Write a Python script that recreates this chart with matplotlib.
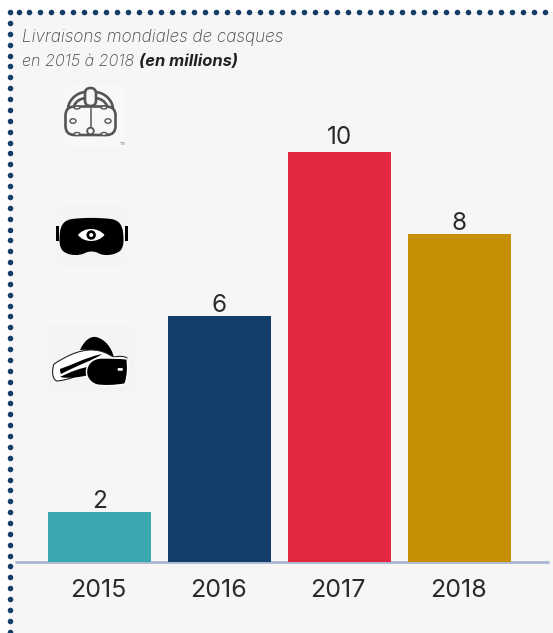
import numpy as np
import matplotlib
matplotlib.use("Agg")
import matplotlib.pyplot as plt
from matplotlib.patches import PathPatch, Rectangle, Ellipse, FancyBboxPatch, Circle
from matplotlib.path import Path

years = ["2015", "2016", "2017", "2018"]
shipments = [2, 6, 10, 8]
bar_colors = ["#3ba7b1", "#133d6b", "#e52842", "#c68f06"]
title_line1 = "Livraisons mondiales de casques"
title_line2 = "en 2015 à 2018"
title_unit = "(en millions)"

W, H = 553, 633
PAGE = "#f7f5f6"
INK = "#2b2b2b"
NAVY = "#133d6b"
FONT = "Inter"

fig = plt.figure(figsize=(W / 100, H / 100), dpi=100, facecolor="white")

# Pixel-space layer for the page, the dotted border and the pictograms
bg = fig.add_axes([0, 0, 1, 1], zorder=0)
bg.set_xlim(0, W)
bg.set_ylim(H, 0)
bg.axis("off")
bg.add_patch(Rectangle((10, 12), W - 10, H - 12, fc=PAGE, ec="none"))

top_x = np.r_[9.8, np.arange(18.5, W - 2, 10.97)]
bg.scatter(top_x, np.full(top_x.size, 12.3), s=16, color=NAVY, lw=0, zorder=3)
left_y = np.arange(23.0, H + 4, 10.87)
bg.scatter(np.full(left_y.size, 10), left_y, s=16, color=NAVY, lw=0, zorder=3)

bg.plot([15, 549], [561.5, 561.5], color="#a9b8d0", lw=2.0, solid_capstyle="butt", zorder=1)


def curve(start, *segments):
    """Closed Bezier outline from a start point and (ctrl, ctrl, end) triples."""
    verts = [start]
    codes = [Path.MOVETO]
    for seg in segments:
        verts.extend(seg)
        codes.extend([Path.CURVE4] * 3)
    verts.append(start)
    codes.append(Path.CLOSEPOLY)
    return Path(verts, codes)


def open_curve(*points):
    return Path(points, [Path.MOVETO] + [Path.CURVE4] * (len(points) - 1))


# Tracked headset: outlined body, top strap and sensor dimples
GREY = "#555555"
ICON_BG = "#f9f8f9"
bg.add_patch(Rectangle((65, 85), 60, 62, fc=ICON_BG, ec="none", zorder=1))
line = dict(fc="none", ec=GREY, lw=1.9, zorder=2)
for pts in ([(68, 108), (69, 100), (76, 93), (85, 92)], [(113, 108), (112, 100), (105, 93), (96, 92)],
            [(74, 106), (76, 101), (80, 99), (85, 98)], [(107, 106), (105, 101), (101, 99), (96, 98)]):
    bg.add_patch(PathPatch(open_curve(*pts), **line))
bg.add_patch(FancyBboxPatch((69, 110), 43, 21.5, boxstyle="round,pad=3.5,rounding_size=9", **line))
bg.add_patch(FancyBboxPatch((85, 88), 11, 18, boxstyle="round,pad=0,rounding_size=5.5", fc=ICON_BG, ec=GREY, lw=1.9, zorder=2))
bg.plot([90.5, 90.5], [109, 128], color=GREY, lw=1.1, zorder=2)
bg.add_patch(Circle((90.5, 131), 3.3, fc=ICON_BG, ec=GREY, lw=1.3, zorder=3))
for cx, cy, a, b in [(73, 121, 6, 4.5), (108, 121, 6, 4.5), (77, 107.5, 6, 3), (104, 107.5, 6, 3),
                     (77, 134, 6, 3), (104, 134, 6, 3)]:
    bg.add_patch(Ellipse((cx, cy), a, b, fc=ICON_BG, ec=GREY, lw=1.0, zorder=3))
bg.text(122.5, 144, "TM", fontsize=2.6, color="#777777", ha="center", va="center", family=FONT)

# Eye headset: black visor with side straps and a white eye
bg.add_patch(Rectangle((57, 205), 70, 62, fc="#f5f4f5", ec="none", zorder=1))
visor = curve((72, 219),
              ((85, 217.5), (98, 217.5), (111, 219)),
              ((118, 220), (122, 224), (123, 232)),
              ((124, 240), (124, 247), (120, 251)),
              ((113, 256), (103, 256), (98, 253)),
              ((94, 251), (89, 251), (85, 253)),
              ((79, 256), (69, 256), (63, 251)),
              ((59, 247), (59, 240), (60, 232)),
              ((61, 224), (65, 220), (72, 219)))
bg.add_patch(PathPatch(visor, fc="black", ec="none", zorder=2))
bg.add_patch(Rectangle((56, 226), 3, 15, fc="black", ec="none", zorder=2))
bg.add_patch(Rectangle((124.5, 226), 3, 15, fc="black", ec="none", zorder=2))
eye = curve((78, 235), ((84, 227), (98, 227), (104.5, 235)), ((98, 243), (84, 243), (78, 235)))
bg.add_patch(PathPatch(eye, fc="white", ec="none", zorder=3))
bg.add_patch(Circle((91.2, 235), 4.7, fc="black", ec="none", zorder=4))
bg.add_patch(Circle((91.2, 235), 2.0, fc="white", ec="none", zorder=5))

# Side-view headset: dome, headband and front visor
bg.add_patch(Rectangle((47, 325), 87, 69, fc="#f5f4f5", ec="none", zorder=1))
dome = curve((80, 350),
             ((84, 341), (90, 336), (96, 337)),
             ((105, 339), (112, 348), (114, 358)),
             ((104, 352), (92, 349), (80, 350)))
bg.add_patch(PathPatch(dome, fc="black", ec="none", zorder=2))
band = curve((54, 364),
             ((68, 355), (84, 347), (100, 351)),
             ((108, 353), (111, 356), (114, 357)),
             ((119, 356), (124, 356), (127, 358)),
             ((127, 361), (127, 364), (126, 366)),
             ((112, 366), (100, 366), (90, 368)),
             ((80, 376), (68, 380), (57, 381)),
             ((53, 380), (51, 372), (54, 364)))
bg.add_patch(PathPatch(band, fc="white", ec="#222222", lw=0.8, zorder=2))
upper = curve((60, 369),
              ((72, 365), (84, 358), (102, 354)),
              ((94, 360), (80, 364), (61, 374)),
              ((60, 372), (60, 370), (60, 369)))
bg.add_patch(PathPatch(upper, fc="black", ec="none", zorder=3))
lower = curve((60, 377),
              ((70, 372), (80, 368), (92, 366)),
              ((90, 369), (89, 372), (89, 375)),
              ((80, 377), (70, 379), (60, 377)))
bg.add_patch(PathPatch(lower, fc="black", ec="none", zorder=3))
front = curve((127, 359),
              ((128, 366), (128, 376), (125, 384)),
              ((114, 386), (104, 386), (97, 385)),
              ((90, 383), (86, 377), (86.5, 371)),
              ((87, 364), (92, 359), (100, 358)),
              ((110, 358), (120, 358), (127, 359)))
bg.add_patch(PathPatch(front, fc="black", ec="white", lw=1.0, zorder=4))
bg.add_patch(FancyBboxPatch((118, 368.5), 4.5, 1.8, boxstyle="round,pad=0.4,rounding_size=1", fc="white", ec="none", zorder=5))

# Bar chart on a transparent layer spanning the page down to the baseline
BASE_PX = 562
PX_PER_UNIT = 41
ax = fig.add_axes([0, (H - BASE_PX) / H, 1, BASE_PX / H], zorder=1)
ax.patch.set_alpha(0)

# Value axis compressed below 6, which is how the short bar sits on the page
value_knots = [0, 2, 6, 20]
axis_knots = [0, 50 / PX_PER_UNIT, 6, 20]
ax.set_yscale("function", functions=(lambda v: np.interp(v, value_knots, axis_knots),
                                     lambda u: np.interp(u, axis_knots, value_knots)))
ax.set_ylim(0, BASE_PX / PX_PER_UNIT)
ax.set_xlim(-99.5 / 120, (W - 99.5) / 120)
ax.axis("off")

positions = np.arange(len(years))
ax.bar(positions, shipments, width=103 / 120, color=bar_colors, linewidth=0)
for x, v in zip(positions, shipments):
    # The two-digit label floats a little higher above its bar
    lift = 6 if v >= 10 else 3
    ax.annotate(str(v), (x, v), xytext=(0, lift), textcoords="offset points", ha="center", va="baseline",
                fontsize=17.5, color=INK, family=FONT)
    ax.annotate(years[x], (x, 0), xytext=(-1, -25.2), textcoords="offset points",
                ha="center", va="baseline", fontsize=18, color=INK, family=FONT,
                annotation_clip=False)

# Two-line heading, with the unit set in heavier type
bg.text(22, 41.5, title_line1, fontsize=12.3, style="italic", weight="light", color="#444444", family=FONT, va="baseline", zorder=6)
bg.text(22, 65.5, title_line2, fontsize=11.6, style="italic", weight="light", color="#444444", family=FONT, va="baseline", zorder=6)
bg.text(139, 65.5, title_unit, fontsize=11.9, style="italic", weight="bold", color="#222222", family=FONT, va="baseline", zorder=6)

fig.savefig("out.png", dpi=100, facecolor="white")
